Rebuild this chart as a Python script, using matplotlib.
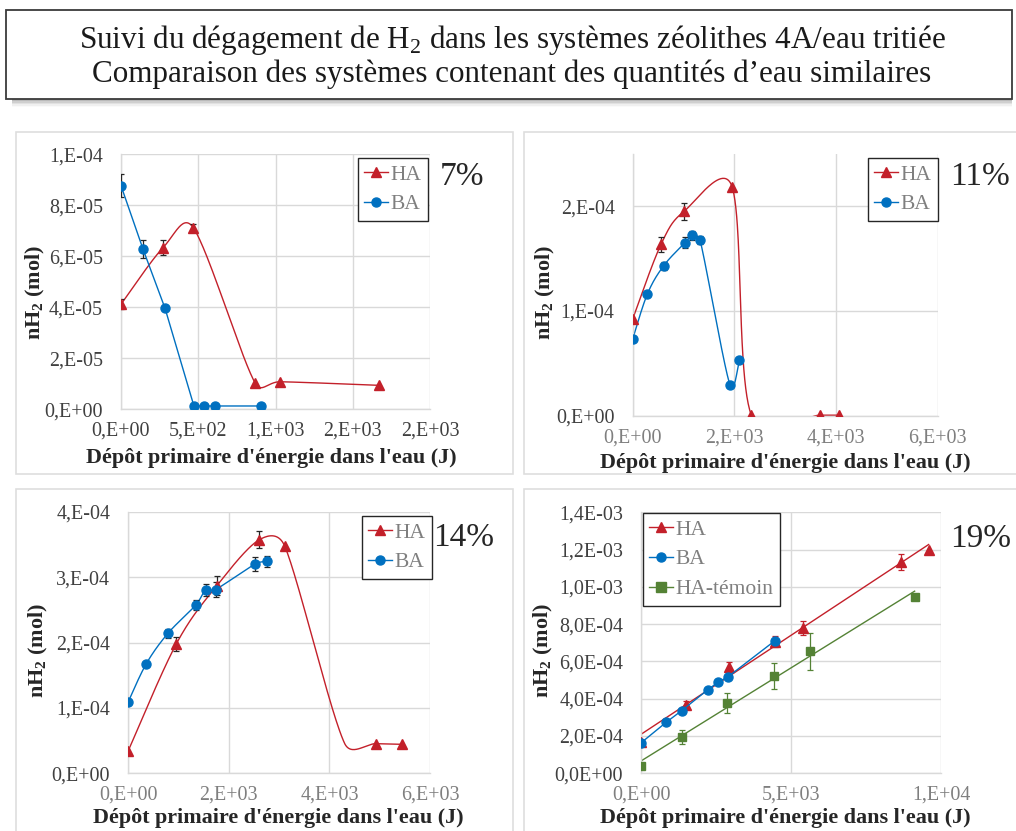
import numpy as np
import matplotlib
matplotlib.use("Agg")
import matplotlib.pyplot as plt
from matplotlib.patches import Rectangle
from matplotlib.lines import Line2D

plt.rcParams['font.family'] = ['Liberation Serif', 'DejaVu Serif']
plt.rcParams['mathtext.fontset'] = 'custom'
plt.rcParams['mathtext.rm'] = 'Liberation Serif'
plt.rcParams['mathtext.bf'] = 'Liberation Serif:bold'

# ---- données ----
# 7 %
p1_ha_x = [0, 272, 468, 869, 1031, 1670]
p1_ha_y = [4.12e-5, 6.34e-5, 7.12e-5, 1.02e-5, 1.08e-5, 0.94e-5]
p1_ha_err = [2.0e-6, 3.0e-6, 1.5e-6, 0, 0, 0]
p1_ba_x = [0, 142, 285, 472, 539, 608, 908]
p1_ba_y = [8.77e-5, 6.29e-5, 3.96e-5, 1.3e-6, 1.3e-6, 1.3e-6, 1.3e-6]
p1_ba_err = [4.5e-6, 3.5e-6, 0, 0, 0, 0, 0]
p1_xticks = [0, 500, 1000, 1500, 2000]
p1_xlabels = ["0,E+00", "5,E+02", "1,E+03", "2,E+03", "2,E+03"]
p1_yticks = [0, 2e-5, 4e-5, 6e-5, 8e-5, 1e-4]
p1_ylabels = ["0,E+00", "2,E-05", "4,E-05", "6,E-05", "8,E-05", "1,E-04"]

# 11 %
p2_ha_x = [0, 557, 1010, 1954, 2334, 3679, 4059]
p2_ha_y = [9.24e-5, 1.637e-4, 1.952e-4, 2.188e-4, 5e-7, 5e-7, 5e-7]
p2_ha_err = [0, 7e-6, 8e-6, 0, 0, 0, 0]
p2_ba_x = [0, 289, 610, 1030, 1174, 1325, 1915, 2098]
p2_ba_y = [7.33e-5, 1.163e-4, 1.433e-4, 1.653e-4, 1.723e-4, 1.678e-4, 2.9e-5, 5.29e-5]
p2_ba_err = [0, 0, 4e-6, 5e-6, 4e-6, 4e-6, 0, 0]
p2_xticks = [0, 2000, 4000, 6000]
p2_xlabels = ["0,E+00", "2,E+03", "4,E+03", "6,E+03"]
p2_yticks = [0, 1e-4, 2e-4]
p2_ylabels = ["0,E+00", "1,E-04", "2,E-04"]

# 14 % (HA : un point sans marqueur vers 4,3E+03, visible au coude de la courbe)
p3_ha_x = [0, 954, 1762, 2603, 3113, 4300, 4921, 5444]
p3_ha_y = [3.47e-5, 1.978e-4, 2.87e-4, 3.57e-4, 3.47e-4, 4.6e-5, 4.53e-5, 4.43e-5]
p3_ha_err = [0, 1.1e-5, 1.5e-5, 1.3e-5, 0, 0, 0, 0]
p3_ha_mark = [1, 1, 1, 1, 1, 0, 1, 1]
p3_ba_x = [0, 358, 788, 1338, 1536, 1735, 2523, 2755]
p3_ba_y = [1.095e-4, 1.676e-4, 2.14e-4, 2.57e-4, 2.8e-4, 2.81e-4, 3.2e-4, 3.24e-4]
p3_ba_err = [0, 0, 7e-6, 8e-6, 9e-6, 1.2e-5, 1e-5, 8e-6]
p3_xticks = [0, 2000, 4000, 6000]
p3_xlabels = ["0,E+00", "2,E+03", "4,E+03", "6,E+03"]
p3_yticks = [0, 1e-4, 2e-4, 3e-4, 4e-4]
p3_ylabels = ["0,E+00", "1,E-04", "2,E-04", "3,E-04", "4,E-04"]

# 19 % (HA : deux points cachés sous les marqueurs BA, à 0 et ~4,4E+03)
p4_ha_x = [0, 1500, 2933, 4444, 5389, 8656, 9578]
p4_ha_y = [1.66e-4, 3.67e-4, 5.71e-4, 7.05e-4, 7.81e-4, 1.132e-3, 1.2e-3]
p4_ha_err = [0, 2e-5, 2.5e-5, 3e-5, 3.8e-5, 4.2e-5, 0]
p4_ba_x = [0, 833, 1344, 2222, 2555, 2900, 4444]
p4_ba_y = [1.645e-4, 2.74e-4, 3.36e-4, 4.49e-4, 4.88e-4, 5.19e-4, 7.1e-4]
p4_ctl_x = [0, 1367, 2856, 4422, 5622, 9111]
p4_ctl_y = [4.1e-5, 1.93e-4, 3.79e-4, 5.22e-4, 6.54e-4, 9.48e-4]
p4_ctl_err = [0, 3.8e-5, 5.4e-5, 6.8e-5, 9.8e-5, 0]
p4_xticks = [0, 5000, 10000]
p4_xlabels = ["0,E+00", "5,E+03", "1,E+04"]
p4_yticks = [0, 2e-4, 4e-4, 6e-4, 8e-4, 1e-3, 1.2e-3, 1.4e-3]
p4_ylabels = ["0,0E+00", "2,0E-04", "4,0E-04", "6,0E-04", "8,0E-04", "1,0E-03", "1,2E-03", "1,4E-03"]

RED = '#C3202A'
BLUE = '#0070C0'
GREEN = '#548235'
GRID = '#d9d9d9'
DARK = '#404040'
GREY = '#7f7f7f'

W, H = 1016, 831
fig = plt.figure(figsize=(W / 100, H / 100), dpi=100)


def smooth(ax, x, y, n=50):
    # courbe lissée type Excel : Bezier, bras limités à la moitié du segment (en pixels)
    pos = ax.get_position()
    kx = pos.width * W / np.ptp(ax.get_xlim())
    ky = pos.height * H / np.ptp(ax.get_ylim())
    pts = np.column_stack([np.array(x) * kx, np.array(y) * ky]).astype(float)
    P = np.vstack([pts[0], pts, pts[-1]])
    t = np.linspace(0, 1, n)[:, None]
    out = []
    for i in range(1, len(P) - 2):
        p0, p1, p2, p3 = P[i - 1], P[i], P[i + 1], P[i + 2]
        d12 = np.hypot(*(p2 - p1))
        d02 = np.hypot(*(p2 - p0))
        d13 = np.hypot(*(p3 - p1))
        f1 = min(1 / 6, 0.5 * d12 / d02) if d02 > 0 else 0
        f2 = min(1 / 6, 0.5 * d12 / d13) if d13 > 0 else 0
        c1 = p1 + (p2 - p0) * f1
        c2 = p2 - (p3 - p1) * f2
        seg = (1 - t) ** 3 * p1 + 3 * (1 - t) ** 2 * t * c1 + 3 * (1 - t) * t ** 2 * c2 + t ** 3 * p2
        out.append(seg if i == 1 else seg[1:])
    s = np.vstack(out)
    return s[:, 0] / kx, s[:, 1] / ky


def frame(l, t, r, b):
    fig.patches.append(Rectangle((l / W, 1 - b / H), (r - l) / W, (b - t) / H,
                                 transform=fig.transFigure, facecolor='white',
                                 edgecolor='#dedede', lw=1.2, zorder=-5))


def make_axes(l, t, r, b):
    ax = fig.add_axes([l / W, 1 - b / H, (r - l) / W, (b - t) / H])
    ax.set_zorder(3)
    ax.patch.set_alpha(0)
    return ax


def style(ax, xlim, ylim, xt, xl, yt, yl, xcol):
    ax.set_xlim(*xlim)
    ax.set_ylim(*ylim)
    ax.set_xticks(xt)
    ax.set_xticklabels(xl)
    ax.set_yticks(yt)
    ax.set_yticklabels(yl)
    ax.grid(True, color=GRID, lw=1.0)
    ax.set_axisbelow(True)
    for s in ['top', 'right']:
        ax.spines[s].set_visible(False)
    for s in ['left', 'bottom']:
        ax.spines[s].set_color(GRID)
        ax.spines[s].set_linewidth(1.0)
    ax.tick_params(axis='both', length=0, labelsize=14.4)
    ax.tick_params(axis='y', pad=13, colors=DARK)
    ax.tick_params(axis='x', pad=9, colors=xcol)


def errs(ax, x, y, e, color):
    x = np.array(x); y = np.array(y); e = np.array(e)
    m = e > 0
    ax.errorbar(x[m], y[m], yerr=e[m], fmt='none', ecolor=color, elinewidth=0.9,
                capsize=2.5, capthick=0.9, zorder=3)


def legend(ax, handles, labels, l, t):
    leg = ax.legend(handles, labels, loc='upper left', bbox_to_anchor=(l / W, 1 - t / H),
                    bbox_transform=fig.transFigure, borderaxespad=0, fancybox=False,
                    framealpha=1, edgecolor='#262626', prop={'size': 15.5},
                    handlelength=1.1, handletextpad=0.1, labelspacing=0.45,
                    borderpad=0.3)
    leg.get_frame().set_linewidth(1.0)
    leg.set_zorder(10)
    for tx in leg.get_texts():
        tx.set_color(GREY)


def hnd(color, marker):
    return Line2D([], [], color=color, marker=marker, lw=1.0, markersize=6.5)


# ---- titre ----
for k, a in enumerate([0.10, 0.08, 0.06, 0.04, 0.02]):
    fig.patches.append(Rectangle((12 / W, 1 - (101 + k * 1.5) / H), 1000 / W, 8 / H,
                                 transform=fig.transFigure, facecolor='black',
                                 alpha=a, edgecolor='none', zorder=-6))
fig.patches.append(Rectangle((6 / W, 1 - 99 / H), 1006 / W, 89 / H,
                             transform=fig.transFigure, facecolor='white',
                             edgecolor='#3a3a3a', lw=1.3, zorder=-4))
fig.text(512 / W, 1 - 40 / H, "Suivi du dégagement de H$_2$ dans les systèmes zéolithes 4A/eau tritiée",
         ha='center', va='center', fontsize=22.4, color='#1a1a1a')
fig.text(512 / W, 1 - 74 / H, "Comparaison des systèmes contenant des quantités d\u2019eau similaires",
         ha='center', va='center', fontsize=22.4, color='#1a1a1a')

# ---- cadres ----
frame(16, 132, 513, 474)
frame(524, 132, 1030, 474)
frame(16, 489, 513, 845)
frame(524, 489, 1030, 845)

XLAB = "Dépôt primaire d'énergie dans l'eau (J)"
YLAB = r"nH$_{\mathbf{2}}$ (mol)"


def labels(xc, xy, yx, yy, pct, px, py):
    fig.text(xc / W, 1 - xy / H, XLAB, ha='center', va='center', fontsize=15.9,
             fontweight='bold', color='#262626')
    fig.text(yx / W, 1 - yy / H, YLAB, ha='center', va='center', fontsize=15.9,
             fontweight='bold', rotation=90, color='#262626')
    fig.text(px / W, 1 - py / H, pct, ha='left', va='baseline', fontsize=24, color='#262626')


# ---- 7 % ----
ax1 = make_axes(121, 154.3, 430, 409.3)
style(ax1, (0, 2000), (0, 1e-4), p1_xticks, p1_xlabels, p1_yticks, p1_ylabels, DARK)
sx, sy = smooth(ax1, p1_ha_x, p1_ha_y)
ax1.plot(sx, sy, color=RED, lw=1.0, zorder=2)
ax1.plot(p1_ha_x, p1_ha_y, ls='none', marker='^', color=RED, markersize=7, zorder=4)
errs(ax1, p1_ha_x, p1_ha_y, p1_ha_err, '#262626')
ax1.plot(p1_ba_x, p1_ba_y, color=BLUE, lw=1.0, marker='o', markersize=6.5, zorder=4)
errs(ax1, p1_ba_x, p1_ba_y, p1_ba_err, '#262626')
legend(ax1, [hnd(RED, '^'), hnd(BLUE, 'o')], ['HA', 'BA'], 358, 158)
labels(271, 458, 35, 292, "7%", 440, 185)

# ---- 11 % ----
ax2 = make_axes(632.7, 154, 937.7, 415.7)
style(ax2, (0, 6000), (0, 2.5e-4), p2_xticks, p2_xlabels, p2_yticks, p2_ylabels, GREY)
sx, sy = smooth(ax2, p2_ha_x, p2_ha_y)
ax2.plot(sx, sy, color=RED, lw=1.0, zorder=2)
ax2.plot(p2_ha_x, p2_ha_y, ls='none', marker='^', color=RED, markersize=7, zorder=4)
errs(ax2, p2_ha_x, p2_ha_y, p2_ha_err, '#262626')
sx, sy = smooth(ax2, p2_ba_x, p2_ba_y)
ax2.plot(sx, sy, color=BLUE, lw=1.0, zorder=2)
ax2.plot(p2_ba_x, p2_ba_y, ls='none', marker='o', color=BLUE, markersize=6.5, zorder=4)
errs(ax2, p2_ba_x, p2_ba_y, p2_ba_err, '#262626')
legend(ax2, [hnd(RED, '^'), hnd(BLUE, 'o')], ['HA', 'BA'], 868, 158)
labels(785, 463, 545, 292, "11%", 950, 185)

# ---- 14 % ----
ax3 = make_axes(128.3, 511.7, 430, 773.3)
style(ax3, (0, 6000), (0, 4e-4), p3_xticks, p3_xlabels, p3_yticks, p3_ylabels, GREY)
sx, sy = smooth(ax3, p3_ha_x, p3_ha_y)
ax3.plot(sx, sy, color=RED, lw=1.0, zorder=2)
mk = np.array(p3_ha_mark) > 0
ax3.plot(np.array(p3_ha_x)[mk], np.array(p3_ha_y)[mk], ls='none', marker='^', color=RED,
         markersize=7, zorder=4)
errs(ax3, p3_ha_x, p3_ha_y, p3_ha_err, '#262626')
sx, sy = smooth(ax3, p3_ba_x, p3_ba_y)
ax3.plot(sx, sy, color=BLUE, lw=1.0, zorder=2)
ax3.plot(p3_ba_x, p3_ba_y, ls='none', marker='o', color=BLUE, markersize=6.5, zorder=4)
errs(ax3, p3_ba_x, p3_ba_y, p3_ba_err, '#262626')
legend(ax3, [hnd(RED, '^'), hnd(BLUE, 'o')], ['HA', 'BA'], 362, 516)
labels(278, 818, 38, 650, "14%", 433, 546)

# ---- 19 % ----
ax4 = make_axes(641.3, 512.3, 941.3, 773.3)
style(ax4, (0, 10000), (0, 1.4e-3), p4_xticks, p4_xlabels, p4_yticks, p4_ylabels, GREY)
a, b = np.polyfit(p4_ha_x, p4_ha_y, 1)
fx = np.array([min(p4_ha_x), max(p4_ha_x)])
ax4.plot(fx, a * fx + b, color=RED, lw=1.0, zorder=2)
a, b = np.polyfit(p4_ctl_x, p4_ctl_y, 1)
fx = np.array([min(p4_ctl_x), max(p4_ctl_x)])
ax4.plot(fx, a * fx + b, color=GREEN, lw=1.0, zorder=2)
ax4.plot(p4_ha_x, p4_ha_y, ls='none', marker='^', color=RED, markersize=7, zorder=4)
errs(ax4, p4_ha_x, p4_ha_y, p4_ha_err, RED)
ax4.plot(p4_ctl_x, p4_ctl_y, ls='none', marker='s', color=GREEN, markersize=6, zorder=4)
errs(ax4, p4_ctl_x, p4_ctl_y, p4_ctl_err, GREEN)
ax4.plot(p4_ba_x, p4_ba_y, color=BLUE, lw=1.0, marker='o', markersize=6.5, zorder=5)
legend(ax4, [hnd(RED, '^'), hnd(BLUE, 'o'), hnd(GREEN, 's')], ['HA', 'BA', 'HA-témoin'], 643, 513)
labels(785, 818, 543, 650, "19%", 950, 547)

fig.savefig("out.png", dpi=100)
